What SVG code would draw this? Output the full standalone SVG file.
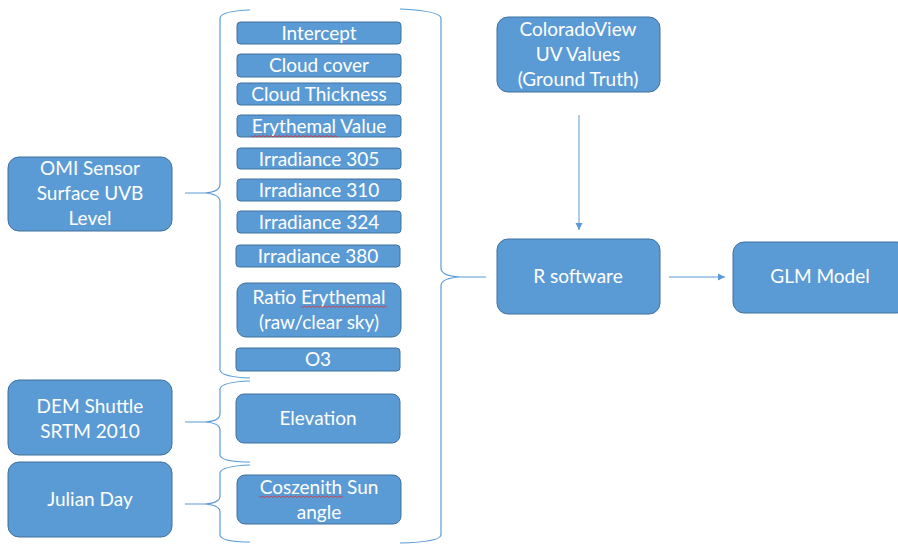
<svg xmlns="http://www.w3.org/2000/svg" width="898" height="544" viewBox="0 0 898 544">
<defs>
<style>
.b{fill:#5B9BD5;stroke:#41719C;stroke-width:1}
.t{font-family:Lato,"Open Sans","Liberation Sans",sans-serif;font-size:19px;fill:#FFFFFF;text-anchor:middle}
.br{fill:none;stroke:#5B9BD5;stroke-width:1.2}
.c{fill:none;stroke:#5B9BD5;stroke-width:1}
.sp{fill:none;stroke:#E03030;stroke-width:0.8}
</style>
<marker id="ah" markerWidth="8" markerHeight="8" refX="7" refY="4" orient="auto" markerUnits="userSpaceOnUse">
<path d="M0,0.5 L7,4 L0,7.5 Z" fill="#5B9BD5"/>
</marker>
</defs>
<rect width="898" height="544" fill="#FFFFFF"/>

<g id="connectors">
<path class="br" d="M250,10 Q221,11 220,18 L220,184 Q220,192 205,193 L185,193 M205,193 Q220,194 220,202 L220,370 Q221,377 250,378"/>
<path class="br" d="M250,381 Q221,382 220,389 L220,414 Q220,421 205,422 L185,422 M205,422 Q220,423 220,430 L220,455 Q221,462 250,462"/>
<path class="br" d="M250,465 Q221,466 220,473 L220,496 Q220,503 205,504 L185,504 M205,504 Q220,505 220,512 L220,535 Q221,542 250,542"/>
<path class="br" d="M400,9 Q440,11 441,18 L441,268 Q441,276 460,277 L486,277 M460,277 Q441,278 441,286 L441,535 Q440,542 400,543"/>
<line class="c" x1="579" y1="115" x2="579" y2="230" marker-end="url(#ah)"/>
<line class="c" x1="669" y1="277" x2="725" y2="277" marker-end="url(#ah)"/>
</g>

<g id="omi"><rect class="b" x="8" y="157" width="164" height="74" rx="11"/>
<text class="t" x="90" y="175">OMI Sensor</text><text class="t" x="90" y="200">Surface UVB</text><text class="t" x="90" y="225">Level</text></g>
<g id="dem"><rect class="b" x="8" y="380" width="164" height="75" rx="11"/>
<text class="t" x="90" y="413">DEM Shuttle</text><text class="t" x="90" y="438">SRTM 2010</text></g>
<g id="julian"><rect class="b" x="8" y="462" width="164" height="75" rx="11"/>
<text class="t" x="90" y="506">Julian Day</text></g>

<g id="intercept"><rect class="b" x="237" y="22" width="164" height="22" rx="3.5"/><text class="t" x="319" y="40">Intercept</text></g>
<g id="cloudcover"><rect class="b" x="237" y="54" width="164" height="23" rx="3.5"/><text class="t" x="319" y="72">Cloud cover</text></g>
<g id="cloudthickness"><rect class="b" x="237" y="83" width="164" height="22" rx="3.5"/><text class="t" x="319" y="101">Cloud Thickness</text></g>
<g id="erythemal"><rect class="b" x="237" y="115" width="164" height="22" rx="3.5"/><text class="t" x="319" y="133">Erythemal Value</text>
<path class="sp" d="M251,135.5 l2,1.5 l2,-1.5 l2,1.5 l2,-1.5 l2,1.5 l2,-1.5 l2,1.5 l2,-1.5 l2,1.5 l2,-1.5 l2,1.5 l2,-1.5 l2,1.5 l2,-1.5 l2,1.5 l2,-1.5 l2,1.5 l2,-1.5 l2,1.5 l2,-1.5 l2,1.5 l2,-1.5 l2,1.5 l2,-1.5 l2,1.5 l2,-1.5 l2,1.5 l2,-1.5 l2,1.5 l2,-1.5 l2,1.5 l2,-1.5 l2,1.5 l2,-1.5 l2,1.5 l2,-1.5 l2,1.5 l2,-1.5 l2,1.5 l2,-1.5 l2,1.5 l2,-1.5 l2,1.5"/></g>
<g id="irr305"><rect class="b" x="237" y="148" width="164" height="21" rx="3.5"/><text class="t" x="319" y="165.5">Irradiance 305</text></g>
<g id="irr310"><rect class="b" x="237" y="179" width="164" height="22" rx="3.5"/><text class="t" x="319" y="197">Irradiance 310</text></g>
<g id="irr324"><rect class="b" x="237" y="211" width="164" height="22" rx="3.5"/><text class="t" x="319" y="229">Irradiance 324</text></g>
<g id="irr380"><rect class="b" x="236" y="245" width="164" height="22" rx="3.5"/><text class="t" x="318" y="263">Irradiance 380</text></g>
<g id="ratio"><rect class="b" x="237" y="283" width="164" height="54" rx="9"/>
<text class="t" x="319" y="304">Ratio Erythemal</text><text class="t" x="319" y="329">(raw/clear sky)</text>
<path class="sp" d="M301,306 l2,1.5 l2,-1.5 l2,1.5 l2,-1.5 l2,1.5 l2,-1.5 l2,1.5 l2,-1.5 l2,1.5 l2,-1.5 l2,1.5 l2,-1.5 l2,1.5 l2,-1.5 l2,1.5 l2,-1.5 l2,1.5 l2,-1.5 l2,1.5 l2,-1.5 l2,1.5 l2,-1.5 l2,1.5 l2,-1.5 l2,1.5 l2,-1.5 l2,1.5 l2,-1.5 l2,1.5 l2,-1.5 l2,1.5 l2,-1.5 l2,1.5 l2,-1.5 l2,1.5 l2,-1.5 l2,1.5 l2,-1.5 l2,1.5 l2,-1.5 l2,1.5 l2,-1.5 l2,1.5"/></g>
<g id="o3"><rect class="b" x="236" y="348" width="164" height="23" rx="3.5"/><text class="t" x="318" y="366">O3</text></g>
<g id="elevation"><rect class="b" x="236" y="394" width="164" height="49" rx="8"/><text class="t" x="318" y="425">Elevation</text></g>
<g id="coszenith"><rect class="b" x="237" y="475" width="164" height="49" rx="8"/>
<text class="t" x="319" y="494">Coszenith Sun</text><text class="t" x="319" y="519">angle</text>
<path class="sp" d="M259,496 l2,1.5 l2,-1.5 l2,1.5 l2,-1.5 l2,1.5 l2,-1.5 l2,1.5 l2,-1.5 l2,1.5 l2,-1.5 l2,1.5 l2,-1.5 l2,1.5 l2,-1.5 l2,1.5 l2,-1.5 l2,1.5 l2,-1.5 l2,1.5 l2,-1.5 l2,1.5 l2,-1.5 l2,1.5 l2,-1.5 l2,1.5 l2,-1.5 l2,1.5 l2,-1.5 l2,1.5 l2,-1.5 l2,1.5 l2,-1.5 l2,1.5 l2,-1.5 l2,1.5 l2,-1.5 l2,1.5 l2,-1.5 l2,1.5 l2,-1.5 l2,1.5 l2,-1.5"/></g>

<g id="coloradoview"><rect class="b" x="497" y="17" width="163" height="75" rx="11"/>
<text class="t" x="578" y="36">ColoradoView</text><text class="t" x="578" y="61">UV Values</text><text class="t" x="578" y="86">(Ground Truth)</text></g>
<g id="rsoftware"><rect class="b" x="497" y="239" width="163" height="75" rx="11"/><text class="t" x="578" y="283">R software</text></g>
<g id="glm"><rect class="b" x="733" y="242" width="175" height="71" rx="11"/><text class="t" x="820" y="283">GLM Model</text></g>
</svg>
